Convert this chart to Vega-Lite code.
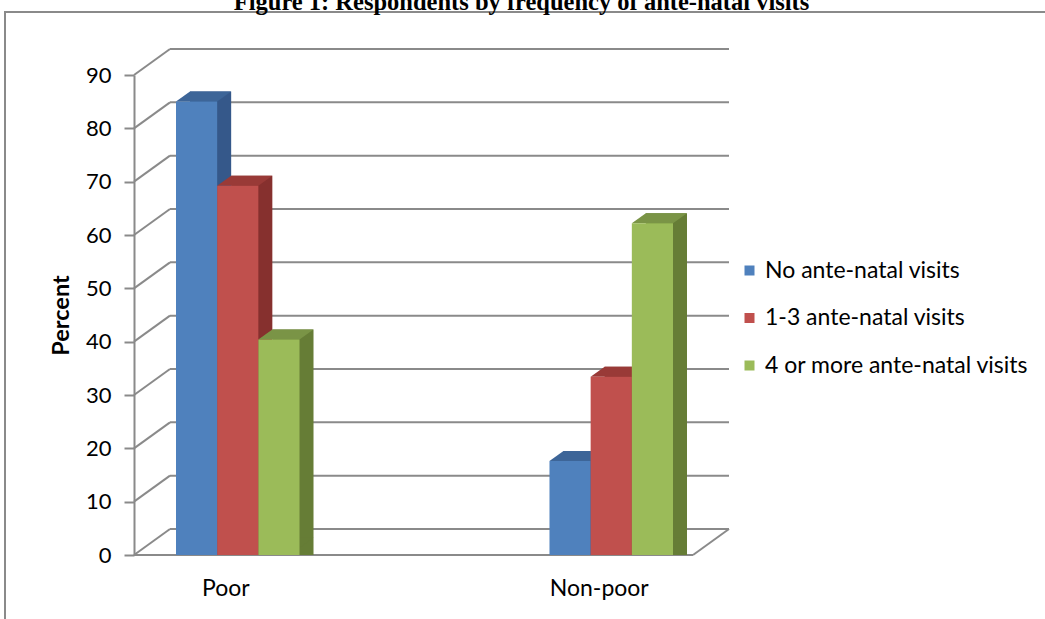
{
  "$schema": "https://vega.github.io/schema/vega-lite/v6.json",
  "width": 1045,
  "height": 620,
  "autosize": {"type": "none"},
  "padding": {"left": 5, "top": 12, "right": 0, "bottom": 0},
  "background": "white",
  "config": {
    "view": {"stroke": "#8a8a8a", "strokeWidth": 2},
    "font": "Lato"
  },
  "title": {
    "text": "Figure 1: Respondents by frequency of ante-natal visits",
    "font": "Liberation Serif",
    "fontSize": 24.5,
    "fontWeight": "bold",
    "color": "black",
    "anchor": "middle",
    "frame": "group",
    "baseline": "alphabetic",
    "offset": -22,
    "dx": -6
  },
  "datasets": {
    "levels": [
      {"level": 0}, {"level": 10}, {"level": 20}, {"level": 30}, {"level": 40},
      {"level": 50}, {"level": 60}, {"level": 70}, {"level": 80}, {"level": 90}
    ],
    "bars": [
      {"area": "Poor", "visits": "No ante-natal visits", "percent": 83.7},
      {"area": "Poor", "visits": "1-3 ante-natal visits", "percent": 67.9},
      {"area": "Poor", "visits": "4 or more ante-natal visits", "percent": 39.1},
      {"area": "Non-poor", "visits": "No ante-natal visits", "percent": 16.3},
      {"area": "Non-poor", "visits": "1-3 ante-natal visits", "percent": 32.1},
      {"area": "Non-poor", "visits": "4 or more ante-natal visits", "percent": 60.9}
    ]
  },
  "layer": [
    {
      "description": "Wall connectors from the front value axis to the back wall",
      "data": {"name": "levels"},
      "mark": {"type": "rule", "stroke": "#8a8a8a", "strokeWidth": 2, "x2Offset": 36, "y2Offset": -26},
      "encoding": {
        "x": {"datum": 0, "type": "quantitative", "scale": {"domain": [0, 1], "range": [129, 688]}, "axis": null},
        "x2": {"datum": 0},
        "y": {
          "field": "level",
          "type": "quantitative",
          "scale": {"domain": [0, 90], "range": [543, 63]},
          "axis": {
            "orient": "left",
            "offset": -129,
            "values": [0, 10, 20, 30, 40, 50, 60, 70, 80, 90],
            "grid": false,
            "domain": true,
            "domainColor": "#8a8a8a",
            "domainWidth": 2,
            "ticks": true,
            "tickColor": "#8a8a8a",
            "tickWidth": 2,
            "tickSize": 10,
            "labelFont": "Lato",
            "labelFontSize": 22,
            "labelColor": "black",
            "labelPadding": 13,
            "title": "Percent",
            "titleFont": "Lato",
            "titleFontSize": 23.5,
            "titleFontWeight": "bold",
            "titleColor": "black",
            "titlePadding": 12
          }
        },
        "y2": {"field": "level"}
      }
    },
    {
      "description": "Back wall gridlines",
      "data": {"name": "levels"},
      "mark": {"type": "rule", "stroke": "#8a8a8a", "strokeWidth": 2, "xOffset": 36, "x2Offset": 36, "yOffset": -26, "y2Offset": -26},
      "encoding": {
        "x": {"datum": 0, "type": "quantitative", "scale": {"domain": [0, 1], "range": [129, 688]}, "axis": null},
        "x2": {"datum": 1},
        "y": {"field": "level", "type": "quantitative"},
        "y2": {"field": "level"}
      }
    },
    {
      "description": "Front edge of the floor",
      "data": {"name": "levels"},
      "transform": [{"filter": "datum.level === 0"}],
      "mark": {"type": "rule", "stroke": "#8a8a8a", "strokeWidth": 2},
      "encoding": {
        "x": {"datum": 0, "type": "quantitative", "scale": {"domain": [0, 1], "range": [129, 688]}, "axis": null},
        "x2": {"datum": 1},
        "y": {"field": "level", "type": "quantitative"},
        "y2": {"field": "level"}
      }
    },
    {
      "description": "Right edge of the floor",
      "data": {"name": "levels"},
      "transform": [{"filter": "datum.level === 0"}],
      "mark": {"type": "rule", "stroke": "#8a8a8a", "strokeWidth": 2, "x2Offset": 36, "y2Offset": -26},
      "encoding": {
        "x": {"datum": 1, "type": "quantitative", "scale": {"domain": [0, 1], "range": [129, 688]}, "axis": null},
        "x2": {"datum": 1},
        "y": {"field": "level", "type": "quantitative"},
        "y2": {"field": "level"}
      }
    },
    {
      "description": "Shaded side of each column (back face)",
      "data": {"name": "bars"},
      "mark": {"type": "bar", "yOffset": -17, "y2Offset": -17},
      "encoding": {
        "x": {"field": "area", "type": "nominal", "scale": {"type": "band", "domain": ["Poor", "Non-poor"], "range": [185, 682], "paddingInner": 0.6693, "paddingOuter": 0}, "axis": null},
        "xOffset": {"field": "visits", "type": "nominal", "scale": {"type": "band", "domain": ["No ante-natal visits", "1-3 ante-natal visits", "4 or more ante-natal visits"], "paddingInner": 0, "paddingOuter": 0}},
        "y": {"field": "percent", "type": "quantitative", "stack": null},
        "fill": {"field": "visits", "type": "nominal", "scale": {"domain": ["No ante-natal visits", "1-3 ante-natal visits", "4 or more ante-natal visits"], "range": ["#35588A", "#86302E", "#667D36"]}, "legend": null}
      }
    },
    {
      "description": "Lower corner of each column side",
      "data": {"name": "bars"},
      "mark": {"type": "point", "shape": "M20.6,0L20.6,-10.5L34.6,-10.5Z", "size": 4, "filled": true, "opacity": 1, "strokeWidth": 0, "yOffset": -7},
      "encoding": {
        "x": {"field": "area", "type": "nominal", "scale": {"type": "band", "domain": ["Poor", "Non-poor"], "range": [171, 668], "paddingInner": 0.6693, "paddingOuter": 0}, "axis": null},
        "xOffset": {"field": "visits", "type": "nominal", "scale": {"type": "band", "domain": ["No ante-natal visits", "1-3 ante-natal visits", "4 or more ante-natal visits"], "paddingInner": 0, "paddingOuter": 0}},
        "y": {"datum": 0, "type": "quantitative"},
        "fill": {"field": "visits", "type": "nominal", "scale": {"domain": ["No ante-natal visits", "1-3 ante-natal visits", "4 or more ante-natal visits"], "range": ["#35588A", "#86302E", "#667D36"]}, "legend": null}
      }
    },
    {
      "description": "Top face of each column",
      "data": {"name": "bars"},
      "mark": {"type": "point", "shape": "M-20.6,0L20.6,0L34.6,-10L-6.6,-10Z", "size": 4, "filled": true, "opacity": 1, "strokeWidth": 0, "yOffset": -7},
      "encoding": {
        "x": {"field": "area", "type": "nominal", "scale": {"type": "band", "domain": ["Poor", "Non-poor"], "range": [171, 668], "paddingInner": 0.6693, "paddingOuter": 0}, "axis": null},
        "xOffset": {"field": "visits", "type": "nominal", "scale": {"type": "band", "domain": ["No ante-natal visits", "1-3 ante-natal visits", "4 or more ante-natal visits"], "paddingInner": 0, "paddingOuter": 0}},
        "y": {"field": "percent", "type": "quantitative"},
        "fill": {"field": "visits", "type": "nominal", "scale": {"domain": ["No ante-natal visits", "1-3 ante-natal visits", "4 or more ante-natal visits"], "range": ["#3D6598", "#993A37", "#7A9446"]}, "legend": null}
      }
    },
    {
      "description": "Front face of each column",
      "data": {"name": "bars"},
      "mark": {"type": "bar", "yOffset": -7, "y2Offset": -7},
      "encoding": {
        "x": {
          "field": "area",
          "type": "nominal",
          "scale": {"type": "band", "domain": ["Poor", "Non-poor"], "range": [171, 668], "paddingInner": 0.6693, "paddingOuter": 0},
          "axis": {
            "orient": "bottom",
            "offset": -75,
            "domain": false,
            "ticks": false,
            "tickSize": 0,
            "labelAngle": 0,
            "labelFont": "Lato",
            "labelFontSize": 23,
            "labelColor": "black",
            "labelPadding": 20,
            "labelOffset": -12,
            "title": null
          }
        },
        "xOffset": {"field": "visits", "type": "nominal", "scale": {"type": "band", "domain": ["No ante-natal visits", "1-3 ante-natal visits", "4 or more ante-natal visits"], "paddingInner": 0, "paddingOuter": 0}},
        "y": {"field": "percent", "type": "quantitative", "stack": null},
        "fill": {
          "field": "visits",
          "type": "nominal",
          "scale": {"domain": ["No ante-natal visits", "1-3 ante-natal visits", "4 or more ante-natal visits"], "range": ["#4F81BD", "#C0504D", "#9BBB59"]},
          "legend": {
            "title": null,
            "orient": "none",
            "legendX": 733,
            "legendY": 247,
            "padding": 0,
            "symbolType": "square",
            "symbolSize": 100,
            "symbolStrokeWidth": 0,
            "labelFont": "Lato",
            "labelFontSize": 23,
            "labelColor": "black",
            "labelOffset": 4,
            "labelLimit": 400,
            "rowPadding": 23.5
          }
        }
      }
    }
  ],
  "resolve": {
    "scale": {"x": "independent", "xOffset": "independent", "fill": "independent"},
    "axis": {"x": "independent"},
    "legend": {"fill": "independent"}
  }
}
